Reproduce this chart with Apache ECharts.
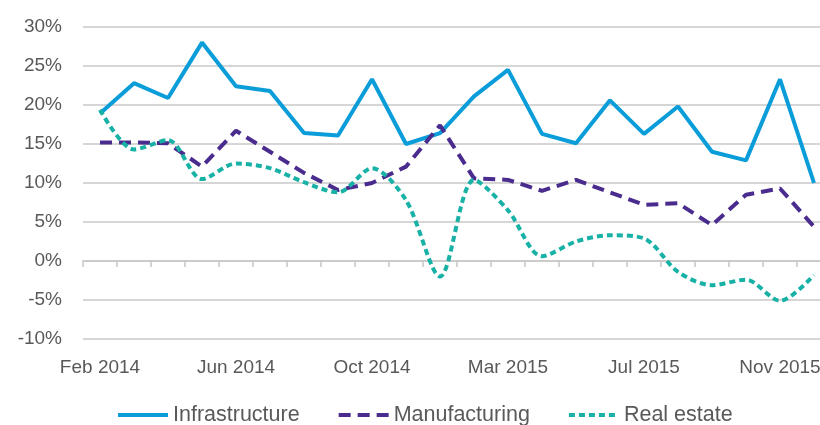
<!DOCTYPE html>
<html>
<head>
    <meta charset="utf-8">
    <title>Investment growth</title>
    <script src="https://cdn.jsdelivr.net/npm/echarts@6/dist/echarts.min.js"></script>
    <style>
        html, body { margin: 0; padding: 0; background: #fff; }
        #echarts { width: 820px; height: 425px; }
    </style>
</head>
<body>
<div id="echarts"></div>
<script>
    // 月份 (no January figures, Jan-Feb are combined)
    var months = [
        'Feb 2014', 'Mar 2014', 'Apr 2014', 'May 2014', 'Jun 2014', 'Jul 2014',
        'Aug 2014', 'Sep 2014', 'Oct 2014', 'Nov 2014', 'Dec 2014',
        'Feb 2015', 'Mar 2015', 'Apr 2015', 'May 2015', 'Jun 2015', 'Jul 2015',
        'Aug 2015', 'Sep 2015', 'Oct 2015', 'Nov 2015', 'Dec 2015'
    ];
    var infrastructure = [18.9, 22.8, 20.9, 28.0, 22.4, 21.8, 16.4, 16.1, 23.3, 15.0, 16.4,
                          21.1, 24.5, 16.3, 15.1, 20.6, 16.3, 19.8, 14.0, 12.9, 23.3, 10.0];
    var manufacturing = [15.2, 15.2, 15.1, 12.1, 16.7, 14.0, 11.3, 9.1, 10.0, 12.1, 17.4,
                         10.6, 10.4, 9.0, 10.4, 8.8, 7.2, 7.4, 4.6, 8.5, 9.3, 4.4];
    var realEstate = [19.4, 14.3, 15.5, 10.5, 12.5, 11.9, 10.1, 8.8, 11.9, 7.8, -2.0,
                      10.4, 6.5, 0.6, 2.5, 3.3, 2.9, -1.4, -3.1, -2.4, -5.1, -1.8];
    var yTicks = { min: -10, max: 30, step: 5 };

    var textColor = '#595959';
    var gridColor = '#c8c8c8';
    var font = 'Liberation Sans';

    var myChart = echarts.init(document.getElementById('echarts'));
    var option = {
        animation: false,
        // plot runs a little past the right edge, like the original
        grid: { left: 83, width: 748, top: 27, height: 312, outerBoundsMode: 'none' },
        legend: {
            top: 399,
            left: 111,
            itemWidth: 50,
            itemHeight: 14,
            itemGap: 37,
            itemStyle: { opacity: 0 },
            lineStyle: { width: 4 },
            textStyle: { color: textColor, fontFamily: font, fontSize: 21.5 },
            data: ['Infrastructure', 'Manufacturing', 'Real estate']
        },
        xAxis: [{
            // line and ticks sitting on 0%
            type: 'category',
            data: months,
            boundaryGap: true,
            axisLine: { onZero: true, lineStyle: { color: gridColor, width: 1.5 } },
            axisTick: { show: true, length: 6, interval: 0, lineStyle: { color: gridColor, width: 1.5 } },
            axisLabel: { show: false }
        }, {
            // labels along the bottom
            type: 'category',
            data: months,
            position: 'bottom',
            boundaryGap: true,
            axisLine: { show: false, onZero: false },
            axisTick: { show: false },
            axisLabel: {
                interval: 3,
                margin: 19,
                color: textColor,
                fontFamily: font,
                fontSize: 19
            }
        }],
        yAxis: {
            type: 'value',
            min: yTicks.min,
            max: yTicks.max,
            interval: yTicks.step,
            axisLine: { show: false },
            axisTick: { show: false },
            axisLabel: {
                formatter: '{value}%',
                margin: 21,
                color: textColor,
                fontFamily: font,
                fontSize: 19
            },
            splitLine: { lineStyle: { color: gridColor, width: 1.5 } }
        },
        series: [{
            name: 'Infrastructure',
            type: 'line',
            data: infrastructure,
            symbol: 'none',
            color: '#0a9dd9',
            lineStyle: { width: 4, color: '#0a9dd9' }
        }, {
            name: 'Manufacturing',
            type: 'line',
            data: manufacturing,
            symbol: 'none',
            color: '#4a2c8e',
            lineStyle: { width: 4, color: '#4a2c8e', type: [12, 7] }
        }, {
            name: 'Real estate',
            type: 'line',
            data: realEstate,
            symbol: 'none',
            smooth: 0.3,
            color: '#17b1a6',
            lineStyle: { width: 4, color: '#17b1a6', type: [6, 4] }
        }]
    };
    myChart.setOption(option);
</script>
</body>
</html>
